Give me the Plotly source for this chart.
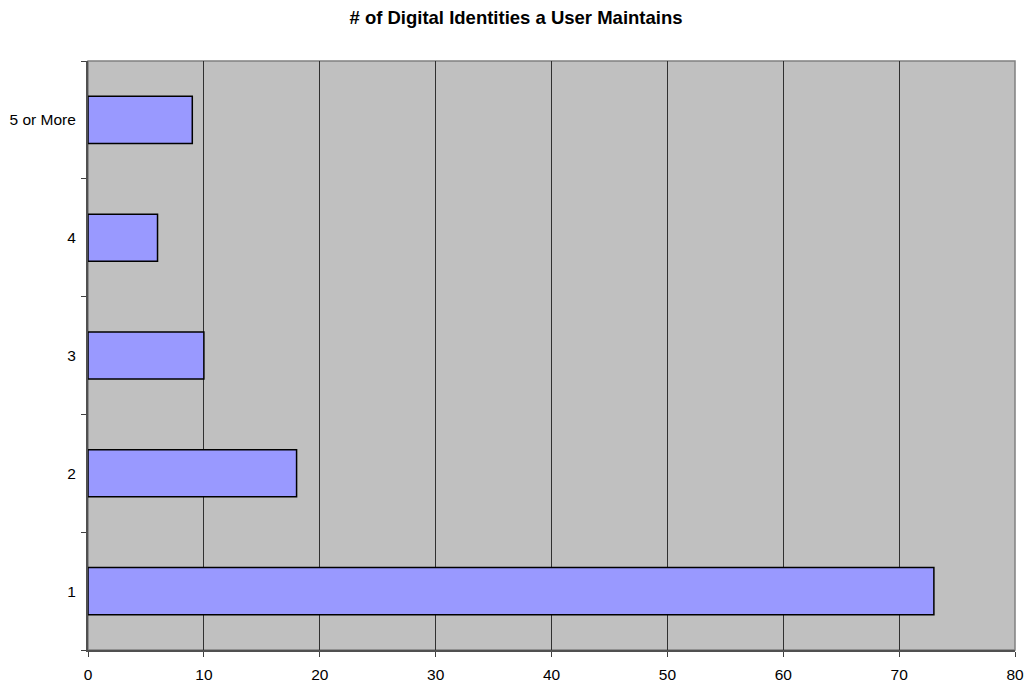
import plotly.graph_objects as go

categories = ["1", "2", "3", "4", "5 or More"]
values = [73, 18, 10, 6, 9]
x_ticks = [0, 10, 20, 30, 40, 50, 60, 70, 80]

fig = go.Figure()
fig.add_trace(go.Bar(
    y=categories, x=values, orientation="h",
    width=0.4,
    marker=dict(color="#9999FF", line=dict(color="#000000", width=1.5)),
))

fig.update_layout(
    width=1026, height=683,
    margin=dict(l=88, r=11, t=61, b=33, autoexpand=False),
    paper_bgcolor="white",
    plot_bgcolor="#C0C0C0",
    showlegend=False,
    font=dict(family="Liberation Sans, Arial, sans-serif", size=15.5, color="black"),
    title=dict(text="<b># of Digital Identities a User Maintains</b>",
               x=0.5 + 3 / 1026, xanchor="center", y=1 - 18 / 683, yanchor="middle",
               font=dict(size=18.5, color="black")),
    bargap=0.6,
)
fig.update_xaxes(
    range=[0, 80], tickvals=x_ticks, ticks="outside", ticklen=5, tickcolor="#404040",
    showgrid=True, gridcolor="#303030", gridwidth=1,
    showline=True, linecolor="#505050", linewidth=2, zeroline=False,
    ticklabelstandoff=4, automargin=False,
)
fig.update_yaxes(
    categoryorder="array", categoryarray=categories,
    tickson="boundaries", ticks="outside", ticklen=5, tickcolor="#404040",
    showgrid=False, showline=True, linecolor="#505050", linewidth=2,
    ticklabelstandoff=7, automargin=False,
)
fig.add_shape(type="rect", xref="paper", yref="paper", x0=0, x1=1, y0=0, y1=1,
              line=dict(color="#808080", width=1.5), layer="below")

fig.write_html("out.html")
